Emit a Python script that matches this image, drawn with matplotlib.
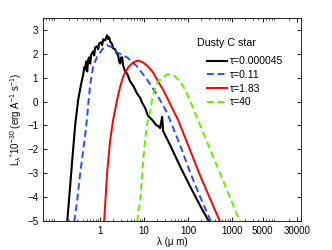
import numpy as np
import matplotlib
matplotlib.use("Agg")
import matplotlib.pyplot as plt
from matplotlib.ticker import FixedLocator, LogLocator, NullFormatter

plt.rcParams['font.family'] = ['Liberation Sans', 'DejaVu Sans']
plt.rcParams['mathtext.fontset'] = 'custom'
plt.rcParams['mathtext.rm'] = 'Liberation Sans'
plt.rcParams['mathtext.it'] = 'Liberation Sans'

# Valores (lambda en micras, log L)
lam_tau1 = [0.178, 0.208, 0.231, 0.270, 0.316, 0.370, 0.411, 0.433, 0.456, 0.481, 0.507,
            0.534, 0.562, 0.593, 0.624, 0.693, 0.731, 0.769, 0.855, 0.901, 0.949, 1.05,
            1.11, 1.17, 1.30, 1.37, 1.44, 1.52, 1.60, 1.69, 1.87, 1.97, 2.19, 2.31, 2.57,
            2.70, 2.85, 3.00, 3.16, 3.33, 3.70, 4.11, 4.81, 5.62, 6.24, 6.93, 8.11, 9.01,
            10.5, 12.3, 13.7, 16.0, 18.7, 20.8, 23.1, 25.7, 27.0, 39.0, 65.8, 111, 187, 300]
L_tau1 = [-5.03, -3.51, -2.46, -0.98, 0.08, 0.75, 1.13, 1.43, 1.34, 1.68, 1.26,
          1.76, 1.85, 1.59, 1.97, 2.10, 1.93, 2.27, 2.31, 2.19, 2.44, 2.48,
          2.36, 2.61, 2.56, 2.69, 2.78, 2.61, 2.69, 2.52, 2.40, 2.23, 2.19, 2.06, 1.93,
          1.68, 1.59, 1.85, 1.85, 1.51, 1.26, 1.17, 0.84, 0.67, 0.50, 0.33, 0.16, -0.05,
          -0.26, -0.60, -0.68, -0.81, -0.98, -1.02, -1.11, -0.64, -1.23, -1.82, -2.71,
          -3.55, -4.35, -5.03]

lam_tau2 = [0.257, 0.300, 0.351, 0.411, 0.456, 0.481, 0.534, 0.593, 0.693, 0.855, 1.0,
            1.17, 1.44, 1.87, 2.43, 4.11, 6.93, 11.7, 19.7, 33.3, 65.8, 111, 187, 333]
L_tau2 = [-5.03, -4.14, -3.0, -2.03, -1.40, -1.06, -0.14, 0.71, 1.47, 1.89, 2.06,
          2.23, 2.36, 2.27, 2.06, 1.85, 1.47, 0.92, 0.29, -0.47, -1.82, -2.96, -3.98, -5.03]

lam_tau3 = [1.23, 1.44, 1.69, 1.97, 2.43, 2.85, 3.33, 4.33, 5.62, 7.31, 9.49, 12.3,
            16.0, 20.8, 27.0, 35.1, 45.6, 59.3, 73.1, 111, 187, 316, 534]
L_tau3 = [-5.03, -2.96, -1.61, -0.77, 0.08, 0.62, 1.05, 1.43, 1.64, 1.72, 1.64, 1.47,
          1.22, 0.84, 0.50, 0.08, -0.35, -0.77, -1.19, -2.03, -3.09, -4.06, -5.03]

lam_tau4 = [6.93, 8.11, 9.01, 9.49, 10.5, 11.7, 13.7, 15.2, 17.8, 20.8, 25.7, 33.3,
            41.1, 50.7, 65.8, 85.5, 111, 187, 316, 534, 901, 1520]
L_tau4 = [-5.03, -4.14, -3.17, -2.46, -1.61, -0.94, -0.43, 0.08, 0.58, 0.84, 1.01, 1.13,
          1.13, 1.05, 0.84, 0.50, 0.03, -0.98, -1.99, -3.0, -4.02, -5.03]

etiquetas = ['τ=0.000045', 'τ=0.11', 'τ=1.83', 'τ=40']
xticks = [1, 10, 100, 1000, 5000, 30000]

fig = plt.figure(figsize=(3.32, 2.5), dpi=100)
ax = fig.add_axes([0.1295, 0.116, 0.777, 0.812])

ax.plot(lam_tau1, L_tau1, color="k", lw=1.5, label=etiquetas[0])
ax.plot(lam_tau2, L_tau2, color="#2b4bff", lw=1.4, ls=(0, (3.5, 2)), label=etiquetas[1])
ax.plot(lam_tau3, L_tau3, color="#ff0000", lw=1.4, label=etiquetas[2])
ax.plot(lam_tau4, L_tau4, color="#66ee00", lw=1.4, ls=(0, (3.5, 2)), label=etiquetas[3])

ax.set_xscale("log")
ax.set_xlim(0.05, 37000)
ax.set_ylim(-5, 3.5)
ax.xaxis.set_major_locator(FixedLocator(xticks))
ax.set_xticklabels([str(t) for t in xticks])
ax.xaxis.set_minor_locator(LogLocator(base=10, subs=np.arange(2, 10)))
ax.xaxis.set_minor_formatter(NullFormatter())
ax.set_yticks(np.arange(-5, 4, 1))
ax.tick_params(which="both", direction="in", top=True, right=True, labelsize=7)
ax.tick_params(which="major", length=3, width=0.6)
ax.tick_params(which="minor", length=1.6, width=0.5)
for s in ax.spines.values():
    s.set_linewidth(0.6)

ax.set_xlabel("λ (μ m)", fontsize=7, labelpad=1)
ax.set_ylabel(r"L$_{λ}$$^{*}$10$^{-30}$ (erg A$^{-1}$ s$^{-1}$)", fontsize=7, labelpad=2)

# Leyenda sin marco, con el titulo aparte
leg = ax.legend(loc="center left", bbox_to_anchor=(0.618, 0.685), frameon=False, fontsize=7.5,
                handlelength=2.0, handletextpad=0.2, labelspacing=0.35, borderaxespad=0)
ax.text(0.597, 0.877, "Dusty C star", transform=ax.transAxes, fontsize=7.7, va="center")

fig.savefig("out.png", dpi=100)
